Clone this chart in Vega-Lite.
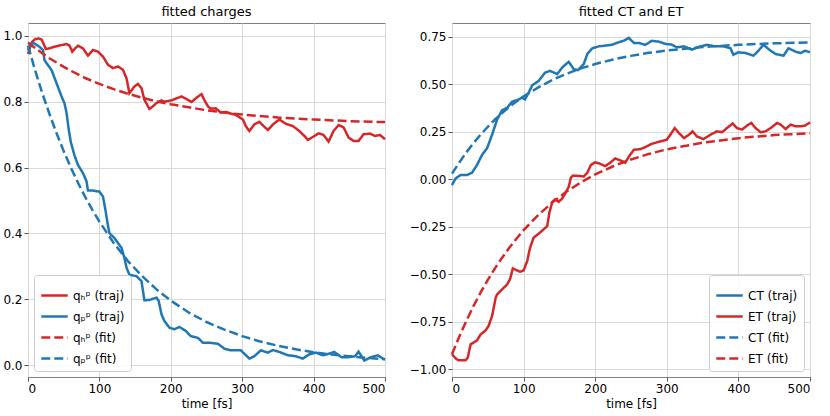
{
  "$schema": "https://vega.github.io/schema/vega-lite/v6.json",
  "padding": {"left": 2, "top": 5, "right": 0, "bottom": 0},
  "spacing": 17,
  "config": {
    "font": "DejaVu Sans",
    "view": {"stroke": "#808080", "strokeWidth": 1},
    "axis": {"labelFont": "DejaVu Sans", "labelFontSize": 12, "labelColor": "#000", "titleFont": "DejaVu Sans", "titleFontSize": 12, "titleFontWeight": "normal", "titleColor": "#000", "gridColor": "#d9d9d9", "gridWidth": 1, "tickColor": "#555", "tickSize": 4, "labelPadding": 2, "domain": false},
    "title": {"font": "DejaVu Sans", "fontSize": 13, "fontWeight": "normal", "offset": 4, "anchor": "middle", "color": "#000"},
    "legend": {"labelFont": "DejaVu Sans", "labelFontSize": 12, "labelColor": "#000", "symbolType": "stroke", "symbolStrokeWidth": 2.5, "symbolSize": 700, "rowPadding": -4, "fillColor": "rgba(255,255,255,0.85)", "strokeColor": "#cccccc", "cornerRadius": 3, "padding": 6, "offset": 6, "title": null}
  },
  "datasets": {
    "left": [
      {"s":"qₕᵖ (traj)","t":0,"v":0.945},{"s":"qₕᵖ (traj)","t":3,"v":0.965},{"s":"qₕᵖ (traj)","t":6,"v":0.982},{"s":"qₕᵖ (traj)","t":10,"v":0.99},{"s":"qₕᵖ (traj)","t":15,"v":0.992},{"s":"qₕᵖ (traj)","t":19,"v":0.989},{"s":"qₕᵖ (traj)","t":22,"v":0.975},{"s":"qₕᵖ (traj)","t":25,"v":0.96},{"s":"qₕᵖ (traj)","t":30,"v":0.962},{"s":"qₕᵖ (traj)","t":37,"v":0.967},{"s":"qₕᵖ (traj)","t":47,"v":0.972},{"s":"qₕᵖ (traj)","t":54,"v":0.975},{"s":"qₕᵖ (traj)","t":58,"v":0.971},{"s":"qₕᵖ (traj)","t":62,"v":0.952},{"s":"qₕᵖ (traj)","t":66,"v":0.962},{"s":"qₕᵖ (traj)","t":70,"v":0.97},{"s":"qₕᵖ (traj)","t":77,"v":0.962},{"s":"qₕᵖ (traj)","t":84,"v":0.94},{"s":"qₕᵖ (traj)","t":91,"v":0.957},{"s":"qₕᵖ (traj)","t":98,"v":0.952},{"s":"qₕᵖ (traj)","t":105,"v":0.937},{"s":"qₕᵖ (traj)","t":112,"v":0.912},{"s":"qₕᵖ (traj)","t":119,"v":0.902},{"s":"qₕᵖ (traj)","t":126,"v":0.907},{"s":"qₕᵖ (traj)","t":133,"v":0.897},{"s":"qₕᵖ (traj)","t":138,"v":0.871},{"s":"qₕᵖ (traj)","t":142,"v":0.826},{"s":"qₕᵖ (traj)","t":149,"v":0.846},{"s":"qₕᵖ (traj)","t":154,"v":0.854},{"s":"qₕᵖ (traj)","t":159,"v":0.841},{"s":"qₕᵖ (traj)","t":163,"v":0.806},{"s":"qₕᵖ (traj)","t":170,"v":0.778},{"s":"qₕᵖ (traj)","t":175,"v":0.786},{"s":"qₕᵖ (traj)","t":180,"v":0.796},{"s":"qₕᵖ (traj)","t":187,"v":0.804},{"s":"qₕᵖ (traj)","t":191,"v":0.8},{"s":"qₕᵖ (traj)","t":201,"v":0.804},{"s":"qₕᵖ (traj)","t":208,"v":0.81},{"s":"qₕᵖ (traj)","t":215,"v":0.816},{"s":"qₕᵖ (traj)","t":222,"v":0.808},{"s":"qₕᵖ (traj)","t":229,"v":0.799},{"s":"qₕᵖ (traj)","t":236,"v":0.812},{"s":"qₕᵖ (traj)","t":243,"v":0.823},{"s":"qₕᵖ (traj)","t":247,"v":0.805},{"s":"qₕᵖ (traj)","t":252,"v":0.786},{"s":"qₕᵖ (traj)","t":256,"v":0.779},{"s":"qₕᵖ (traj)","t":263,"v":0.78},{"s":"qₕᵖ (traj)","t":270,"v":0.767},{"s":"qₕᵖ (traj)","t":277,"v":0.769},{"s":"qₕᵖ (traj)","t":284,"v":0.764},{"s":"qₕᵖ (traj)","t":291,"v":0.76},{"s":"qₕᵖ (traj)","t":301,"v":0.746},{"s":"qₕᵖ (traj)","t":305,"v":0.726},{"s":"qₕᵖ (traj)","t":310,"v":0.711},{"s":"qₕᵖ (traj)","t":317,"v":0.731},{"s":"qₕᵖ (traj)","t":324,"v":0.739},{"s":"qₕᵖ (traj)","t":330,"v":0.726},{"s":"qₕᵖ (traj)","t":336,"v":0.714},{"s":"qₕᵖ (traj)","t":343,"v":0.731},{"s":"qₕᵖ (traj)","t":352,"v":0.746},{"s":"qₕᵖ (traj)","t":361,"v":0.733},{"s":"qₕᵖ (traj)","t":371,"v":0.726},{"s":"qₕᵖ (traj)","t":380,"v":0.711},{"s":"qₕᵖ (traj)","t":387,"v":0.696},{"s":"qₕᵖ (traj)","t":392,"v":0.684},{"s":"qₕᵖ (traj)","t":399,"v":0.693},{"s":"qₕᵖ (traj)","t":407,"v":0.704},{"s":"qₕᵖ (traj)","t":414,"v":0.699},{"s":"qₕᵖ (traj)","t":421,"v":0.679},{"s":"qₕᵖ (traj)","t":428,"v":0.711},{"s":"qₕᵖ (traj)","t":435,"v":0.729},{"s":"qₕᵖ (traj)","t":442,"v":0.722},{"s":"qₕᵖ (traj)","t":449,"v":0.691},{"s":"qₕᵖ (traj)","t":456,"v":0.681},{"s":"qₕᵖ (traj)","t":463,"v":0.681},{"s":"qₕᵖ (traj)","t":470,"v":0.701},{"s":"qₕᵖ (traj)","t":479,"v":0.703},{"s":"qₕᵖ (traj)","t":486,"v":0.696},{"s":"qₕᵖ (traj)","t":493,"v":0.699},{"s":"qₕᵖ (traj)","t":500,"v":0.686},
      {"s":"qₚᵖ (traj)","t":0,"v":0.955},{"s":"qₚᵖ (traj)","t":3,"v":0.975},{"s":"qₚᵖ (traj)","t":8,"v":0.978},{"s":"qₚᵖ (traj)","t":16,"v":0.967},{"s":"qₚᵖ (traj)","t":21,"v":0.957},{"s":"qₚᵖ (traj)","t":23,"v":0.927},{"s":"qₚᵖ (traj)","t":26,"v":0.917},{"s":"qₚᵖ (traj)","t":33,"v":0.896},{"s":"qₚᵖ (traj)","t":40,"v":0.856},{"s":"qₚᵖ (traj)","t":47,"v":0.816},{"s":"qₚᵖ (traj)","t":51,"v":0.796},{"s":"qₚᵖ (traj)","t":54,"v":0.766},{"s":"qₚᵖ (traj)","t":57,"v":0.716},{"s":"qₚᵖ (traj)","t":60,"v":0.677},{"s":"qₚᵖ (traj)","t":65,"v":0.638},{"s":"qₚᵖ (traj)","t":70,"v":0.608},{"s":"qₚᵖ (traj)","t":77,"v":0.583},{"s":"qₚᵖ (traj)","t":82,"v":0.558},{"s":"qₚᵖ (traj)","t":84,"v":0.53},{"s":"qₚᵖ (traj)","t":91,"v":0.53},{"s":"qₚᵖ (traj)","t":100,"v":0.527},{"s":"qₚᵖ (traj)","t":105,"v":0.512},{"s":"qₚᵖ (traj)","t":108,"v":0.477},{"s":"qₚᵖ (traj)","t":111,"v":0.437},{"s":"qₚᵖ (traj)","t":114,"v":0.401},{"s":"qₚᵖ (traj)","t":121,"v":0.386},{"s":"qₚᵖ (traj)","t":131,"v":0.356},{"s":"qₚᵖ (traj)","t":135,"v":0.326},{"s":"qₚᵖ (traj)","t":138,"v":0.296},{"s":"qₚᵖ (traj)","t":142,"v":0.275},{"s":"qₚᵖ (traj)","t":152,"v":0.27},{"s":"qₚᵖ (traj)","t":159,"v":0.255},{"s":"qₚᵖ (traj)","t":163,"v":0.197},{"s":"qₚᵖ (traj)","t":170,"v":0.198},{"s":"qₚᵖ (traj)","t":180,"v":0.205},{"s":"qₚᵖ (traj)","t":183,"v":0.195},{"s":"qₚᵖ (traj)","t":187,"v":0.154},{"s":"qₚᵖ (traj)","t":191,"v":0.134},{"s":"qₚᵖ (traj)","t":198,"v":0.114},{"s":"qₚᵖ (traj)","t":205,"v":0.109},{"s":"qₚᵖ (traj)","t":212,"v":0.116},{"s":"qₚᵖ (traj)","t":221,"v":0.104},{"s":"qₚᵖ (traj)","t":228,"v":0.088},{"s":"qₚᵖ (traj)","t":238,"v":0.083},{"s":"qₚᵖ (traj)","t":245,"v":0.068},{"s":"qₚᵖ (traj)","t":254,"v":0.068},{"s":"qₚᵖ (traj)","t":266,"v":0.065},{"s":"qₚᵖ (traj)","t":275,"v":0.05},{"s":"qₚᵖ (traj)","t":284,"v":0.045},{"s":"qₚᵖ (traj)","t":298,"v":0.045},{"s":"qₚᵖ (traj)","t":310,"v":0.02},{"s":"qₚᵖ (traj)","t":317,"v":0.027},{"s":"qₚᵖ (traj)","t":326,"v":0.045},{"s":"qₚᵖ (traj)","t":336,"v":0.038},{"s":"qₚᵖ (traj)","t":343,"v":0.046},{"s":"qₚᵖ (traj)","t":352,"v":0.04},{"s":"qₚᵖ (traj)","t":364,"v":0.03},{"s":"qₚᵖ (traj)","t":375,"v":0.027},{"s":"qₚᵖ (traj)","t":385,"v":0.02},{"s":"qₚᵖ (traj)","t":394,"v":0.033},{"s":"qₚᵖ (traj)","t":403,"v":0.038},{"s":"qₚᵖ (traj)","t":413,"v":0.03},{"s":"qₚᵖ (traj)","t":422,"v":0.035},{"s":"qₚᵖ (traj)","t":429,"v":0.04},{"s":"qₚᵖ (traj)","t":439,"v":0.024},{"s":"qₚᵖ (traj)","t":448,"v":0.024},{"s":"qₚᵖ (traj)","t":458,"v":0.027},{"s":"qₚᵖ (traj)","t":463,"v":0.041},{"s":"qₚᵖ (traj)","t":471,"v":0.014},{"s":"qₚᵖ (traj)","t":480,"v":0.024},{"s":"qₚᵖ (traj)","t":490,"v":0.03},{"s":"qₚᵖ (traj)","t":497,"v":0.02},{"s":"qₚᵖ (traj)","t":500,"v":0.017},
      {"s":"qₕᵖ (fit)","t":0,"v":0.98},{"s":"qₕᵖ (fit)","t":10,"v":0.963},{"s":"qₕᵖ (fit)","t":20,"v":0.947},{"s":"qₕᵖ (fit)","t":30,"v":0.932},{"s":"qₕᵖ (fit)","t":40,"v":0.919},{"s":"qₕᵖ (fit)","t":50,"v":0.906},{"s":"qₕᵖ (fit)","t":60,"v":0.894},{"s":"qₕᵖ (fit)","t":70,"v":0.883},{"s":"qₕᵖ (fit)","t":80,"v":0.872},{"s":"qₕᵖ (fit)","t":90,"v":0.863},{"s":"qₕᵖ (fit)","t":100,"v":0.854},{"s":"qₕᵖ (fit)","t":120,"v":0.838},{"s":"qₕᵖ (fit)","t":140,"v":0.824},{"s":"qₕᵖ (fit)","t":160,"v":0.812},{"s":"qₕᵖ (fit)","t":180,"v":0.801},{"s":"qₕᵖ (fit)","t":200,"v":0.792},{"s":"qₕᵖ (fit)","t":225,"v":0.783},{"s":"qₕᵖ (fit)","t":250,"v":0.774},{"s":"qₕᵖ (fit)","t":275,"v":0.767},{"s":"qₕᵖ (fit)","t":300,"v":0.761},{"s":"qₕᵖ (fit)","t":350,"v":0.752},{"s":"qₕᵖ (fit)","t":400,"v":0.746},{"s":"qₕᵖ (fit)","t":450,"v":0.741},{"s":"qₕᵖ (fit)","t":500,"v":0.738},
      {"s":"qₚᵖ (fit)","t":0,"v":0.97},{"s":"qₚᵖ (fit)","t":10,"v":0.895},{"s":"qₚᵖ (fit)","t":20,"v":0.826},{"s":"qₚᵖ (fit)","t":30,"v":0.763},{"s":"qₚᵖ (fit)","t":40,"v":0.704},{"s":"qₚᵖ (fit)","t":50,"v":0.65},{"s":"qₚᵖ (fit)","t":60,"v":0.6},{"s":"qₚᵖ (fit)","t":70,"v":0.554},{"s":"qₚᵖ (fit)","t":80,"v":0.511},{"s":"qₚᵖ (fit)","t":90,"v":0.472},{"s":"qₚᵖ (fit)","t":100,"v":0.436},{"s":"qₚᵖ (fit)","t":120,"v":0.371},{"s":"qₚᵖ (fit)","t":140,"v":0.316},{"s":"qₚᵖ (fit)","t":160,"v":0.27},{"s":"qₚᵖ (fit)","t":180,"v":0.23},{"s":"qₚᵖ (fit)","t":200,"v":0.196},{"s":"qₚᵖ (fit)","t":225,"v":0.16},{"s":"qₚᵖ (fit)","t":250,"v":0.131},{"s":"qₚᵖ (fit)","t":275,"v":0.108},{"s":"qₚᵖ (fit)","t":300,"v":0.088},{"s":"qₚᵖ (fit)","t":325,"v":0.072},{"s":"qₚᵖ (fit)","t":350,"v":0.059},{"s":"qₚᵖ (fit)","t":375,"v":0.048},{"s":"qₚᵖ (fit)","t":400,"v":0.039},{"s":"qₚᵖ (fit)","t":425,"v":0.032},{"s":"qₚᵖ (fit)","t":450,"v":0.027},{"s":"qₚᵖ (fit)","t":475,"v":0.022},{"s":"qₚᵖ (fit)","t":500,"v":0.018}
    ],
    "right": [
      {"s":"CT (traj)","t":0,"v":-0.03},{"s":"CT (traj)","t":5,"v":0.005},{"s":"CT (traj)","t":12,"v":0.023},{"s":"CT (traj)","t":21,"v":0.023},{"s":"CT (traj)","t":28,"v":0.035},{"s":"CT (traj)","t":35,"v":0.076},{"s":"CT (traj)","t":42,"v":0.129},{"s":"CT (traj)","t":49,"v":0.164},{"s":"CT (traj)","t":56,"v":0.235},{"s":"CT (traj)","t":63,"v":0.315},{"s":"CT (traj)","t":70,"v":0.364},{"s":"CT (traj)","t":77,"v":0.377},{"s":"CT (traj)","t":84,"v":0.409},{"s":"CT (traj)","t":91,"v":0.417},{"s":"CT (traj)","t":98,"v":0.43},{"s":"CT (traj)","t":102,"v":0.421},{"s":"CT (traj)","t":107,"v":0.456},{"s":"CT (traj)","t":112,"v":0.495},{"s":"CT (traj)","t":121,"v":0.518},{"s":"CT (traj)","t":130,"v":0.562},{"s":"CT (traj)","t":137,"v":0.571},{"s":"CT (traj)","t":147,"v":0.554},{"s":"CT (traj)","t":154,"v":0.589},{"s":"CT (traj)","t":163,"v":0.619},{"s":"CT (traj)","t":170,"v":0.58},{"s":"CT (traj)","t":176,"v":0.575},{"s":"CT (traj)","t":184,"v":0.607},{"s":"CT (traj)","t":189,"v":0.66},{"s":"CT (traj)","t":196,"v":0.69},{"s":"CT (traj)","t":205,"v":0.7},{"s":"CT (traj)","t":214,"v":0.704},{"s":"CT (traj)","t":223,"v":0.708},{"s":"CT (traj)","t":230,"v":0.718},{"s":"CT (traj)","t":240,"v":0.73},{"s":"CT (traj)","t":247,"v":0.745},{"s":"CT (traj)","t":254,"v":0.718},{"s":"CT (traj)","t":261,"v":0.718},{"s":"CT (traj)","t":270,"v":0.708},{"s":"CT (traj)","t":279,"v":0.729},{"s":"CT (traj)","t":289,"v":0.725},{"s":"CT (traj)","t":298,"v":0.713},{"s":"CT (traj)","t":307,"v":0.709},{"s":"CT (traj)","t":314,"v":0.695},{"s":"CT (traj)","t":324,"v":0.7},{"s":"CT (traj)","t":335,"v":0.683},{"s":"CT (traj)","t":347,"v":0.7},{"s":"CT (traj)","t":356,"v":0.708},{"s":"CT (traj)","t":368,"v":0.7},{"s":"CT (traj)","t":379,"v":0.7},{"s":"CT (traj)","t":389,"v":0.69},{"s":"CT (traj)","t":393,"v":0.656},{"s":"CT (traj)","t":400,"v":0.669},{"s":"CT (traj)","t":410,"v":0.665},{"s":"CT (traj)","t":421,"v":0.651},{"s":"CT (traj)","t":428,"v":0.677},{"s":"CT (traj)","t":435,"v":0.708},{"s":"CT (traj)","t":445,"v":0.677},{"s":"CT (traj)","t":452,"v":0.66},{"s":"CT (traj)","t":463,"v":0.651},{"s":"CT (traj)","t":470,"v":0.69},{"s":"CT (traj)","t":480,"v":0.672},{"s":"CT (traj)","t":487,"v":0.665},{"s":"CT (traj)","t":493,"v":0.677},{"s":"CT (traj)","t":500,"v":0.669},
      {"s":"ET (traj)","t":0,"v":-0.92},{"s":"ET (traj)","t":5,"v":-0.942},{"s":"ET (traj)","t":9,"v":-0.952},{"s":"ET (traj)","t":19,"v":-0.952},{"s":"ET (traj)","t":22,"v":-0.938},{"s":"ET (traj)","t":26,"v":-0.868},{"s":"ET (traj)","t":30,"v":-0.859},{"s":"ET (traj)","t":35,"v":-0.847},{"s":"ET (traj)","t":40,"v":-0.816},{"s":"ET (traj)","t":47,"v":-0.795},{"s":"ET (traj)","t":51,"v":-0.772},{"s":"ET (traj)","t":56,"v":-0.719},{"s":"ET (traj)","t":61,"v":-0.623},{"s":"ET (traj)","t":63,"v":-0.605},{"s":"ET (traj)","t":70,"v":-0.579},{"s":"ET (traj)","t":77,"v":-0.553},{"s":"ET (traj)","t":81,"v":-0.526},{"s":"ET (traj)","t":85,"v":-0.468},{"s":"ET (traj)","t":88,"v":-0.474},{"s":"ET (traj)","t":95,"v":-0.486},{"s":"ET (traj)","t":100,"v":-0.479},{"s":"ET (traj)","t":105,"v":-0.43},{"s":"ET (traj)","t":109,"v":-0.36},{"s":"ET (traj)","t":114,"v":-0.307},{"s":"ET (traj)","t":121,"v":-0.286},{"s":"ET (traj)","t":128,"v":-0.263},{"s":"ET (traj)","t":133,"v":-0.246},{"s":"ET (traj)","t":136,"v":-0.175},{"s":"ET (traj)","t":140,"v":-0.12},{"s":"ET (traj)","t":144,"v":-0.105},{"s":"ET (traj)","t":149,"v":-0.118},{"s":"ET (traj)","t":154,"v":-0.1},{"s":"ET (traj)","t":158,"v":-0.075},{"s":"ET (traj)","t":163,"v":-0.04},{"s":"ET (traj)","t":166,"v":0.009},{"s":"ET (traj)","t":169,"v":0.02},{"s":"ET (traj)","t":177,"v":0.018},{"s":"ET (traj)","t":184,"v":0.015},{"s":"ET (traj)","t":189,"v":0.035},{"s":"ET (traj)","t":194,"v":0.076},{"s":"ET (traj)","t":200,"v":0.09},{"s":"ET (traj)","t":207,"v":0.082},{"s":"ET (traj)","t":214,"v":0.07},{"s":"ET (traj)","t":221,"v":0.088},{"s":"ET (traj)","t":228,"v":0.11},{"s":"ET (traj)","t":235,"v":0.1},{"s":"ET (traj)","t":242,"v":0.088},{"s":"ET (traj)","t":247,"v":0.12},{"s":"ET (traj)","t":254,"v":0.156},{"s":"ET (traj)","t":263,"v":0.159},{"s":"ET (traj)","t":270,"v":0.17},{"s":"ET (traj)","t":279,"v":0.187},{"s":"ET (traj)","t":291,"v":0.2},{"s":"ET (traj)","t":300,"v":0.209},{"s":"ET (traj)","t":305,"v":0.235},{"s":"ET (traj)","t":311,"v":0.27},{"s":"ET (traj)","t":317,"v":0.244},{"s":"ET (traj)","t":324,"v":0.217},{"s":"ET (traj)","t":331,"v":0.235},{"s":"ET (traj)","t":336,"v":0.253},{"s":"ET (traj)","t":342,"v":0.226},{"s":"ET (traj)","t":351,"v":0.212},{"s":"ET (traj)","t":361,"v":0.235},{"s":"ET (traj)","t":370,"v":0.253},{"s":"ET (traj)","t":377,"v":0.248},{"s":"ET (traj)","t":384,"v":0.27},{"s":"ET (traj)","t":392,"v":0.294},{"s":"ET (traj)","t":398,"v":0.27},{"s":"ET (traj)","t":405,"v":0.262},{"s":"ET (traj)","t":412,"v":0.283},{"s":"ET (traj)","t":418,"v":0.297},{"s":"ET (traj)","t":424,"v":0.27},{"s":"ET (traj)","t":431,"v":0.248},{"s":"ET (traj)","t":438,"v":0.253},{"s":"ET (traj)","t":445,"v":0.27},{"s":"ET (traj)","t":454,"v":0.297},{"s":"ET (traj)","t":459,"v":0.288},{"s":"ET (traj)","t":466,"v":0.265},{"s":"ET (traj)","t":473,"v":0.288},{"s":"ET (traj)","t":480,"v":0.279},{"s":"ET (traj)","t":487,"v":0.279},{"s":"ET (traj)","t":493,"v":0.283},{"s":"ET (traj)","t":500,"v":0.3},
      {"s":"CT (fit)","t":0,"v":0.03},{"s":"CT (fit)","t":10,"v":0.088},{"s":"CT (fit)","t":20,"v":0.142},{"s":"CT (fit)","t":30,"v":0.191},{"s":"CT (fit)","t":40,"v":0.236},{"s":"CT (fit)","t":50,"v":0.277},{"s":"CT (fit)","t":60,"v":0.315},{"s":"CT (fit)","t":70,"v":0.349},{"s":"CT (fit)","t":80,"v":0.381},{"s":"CT (fit)","t":90,"v":0.41},{"s":"CT (fit)","t":100,"v":0.437},{"s":"CT (fit)","t":120,"v":0.483},{"s":"CT (fit)","t":140,"v":0.523},{"s":"CT (fit)","t":160,"v":0.556},{"s":"CT (fit)","t":180,"v":0.584},{"s":"CT (fit)","t":200,"v":0.607},{"s":"CT (fit)","t":225,"v":0.631},{"s":"CT (fit)","t":250,"v":0.65},{"s":"CT (fit)","t":275,"v":0.666},{"s":"CT (fit)","t":300,"v":0.678},{"s":"CT (fit)","t":350,"v":0.697},{"s":"CT (fit)","t":400,"v":0.708},{"s":"CT (fit)","t":450,"v":0.716},{"s":"CT (fit)","t":500,"v":0.721},
      {"s":"ET (fit)","t":0,"v":-0.92},{"s":"ET (fit)","t":10,"v":-0.829},{"s":"ET (fit)","t":20,"v":-0.745},{"s":"ET (fit)","t":30,"v":-0.667},{"s":"ET (fit)","t":40,"v":-0.595},{"s":"ET (fit)","t":50,"v":-0.529},{"s":"ET (fit)","t":60,"v":-0.468},{"s":"ET (fit)","t":70,"v":-0.412},{"s":"ET (fit)","t":80,"v":-0.36},{"s":"ET (fit)","t":90,"v":-0.312},{"s":"ET (fit)","t":100,"v":-0.267},{"s":"ET (fit)","t":120,"v":-0.189},{"s":"ET (fit)","t":140,"v":-0.122},{"s":"ET (fit)","t":160,"v":-0.064},{"s":"ET (fit)","t":180,"v":-0.016},{"s":"ET (fit)","t":200,"v":0.026},{"s":"ET (fit)","t":225,"v":0.069},{"s":"ET (fit)","t":250,"v":0.105},{"s":"ET (fit)","t":275,"v":0.134},{"s":"ET (fit)","t":300,"v":0.158},{"s":"ET (fit)","t":350,"v":0.193},{"s":"ET (fit)","t":400,"v":0.217},{"s":"ET (fit)","t":450,"v":0.233},{"s":"ET (fit)","t":500,"v":0.243}
    ]
  },
  "hconcat": [
    {
      "title": "fitted charges",
      "width": 357,
      "height": 354,
      "data": {"name": "left"},
      "mark": {"type": "line", "strokeWidth": 2.5},
      "encoding": {
        "x": {"field": "t", "type": "quantitative", "title": "time [fs]", "scale": {"domain": [0, 500], "nice": false}, "axis": {"values": [0, 100, 200, 300, 400, 500]}},
        "y": {"field": "v", "type": "quantitative", "title": null, "scale": {"domain": [-0.036, 1.039], "nice": false, "zero": false}, "axis": {"values": [0, 0.2, 0.4, 0.6, 0.8, 1.0], "format": ".1f"}},
        "color": {"field": "s", "type": "nominal", "scale": {"domain": ["qₕᵖ (traj)", "qₚᵖ (traj)", "qₕᵖ (fit)", "qₚᵖ (fit)"], "range": ["#d62728", "#1f77b4", "#d62728", "#1f77b4"]}, "legend": {"orient": "bottom-left"}},
        "strokeDash": {"field": "s", "type": "nominal", "scale": {"domain": ["qₕᵖ (traj)", "qₚᵖ (traj)", "qₕᵖ (fit)", "qₚᵖ (fit)"], "range": [[1, 0], [1, 0], [9, 4], [9, 4]]}, "legend": {"orient": "bottom-left"}}
      }
    },
    {
      "title": "fitted CT and ET",
      "width": 358,
      "height": 354,
      "data": {"name": "right"},
      "mark": {"type": "line", "strokeWidth": 2.5},
      "encoding": {
        "x": {"field": "t", "type": "quantitative", "title": "time [fs]", "scale": {"domain": [0, 500], "nice": false}, "axis": {"values": [0, 100, 200, 300, 400, 500]}},
        "y": {"field": "v", "type": "quantitative", "title": null, "scale": {"domain": [-1.04, 0.823], "nice": false, "zero": false}, "axis": {"values": [-1, -0.75, -0.5, -0.25, 0, 0.25, 0.5, 0.75], "format": ".2f"}},
        "color": {"field": "s", "type": "nominal", "scale": {"domain": ["CT (traj)", "ET (traj)", "CT (fit)", "ET (fit)"], "range": ["#1f77b4", "#d62728", "#1f77b4", "#d62728"]}, "legend": {"orient": "bottom-right"}},
        "strokeDash": {"field": "s", "type": "nominal", "scale": {"domain": ["CT (traj)", "ET (traj)", "CT (fit)", "ET (fit)"], "range": [[1, 0], [1, 0], [9, 4], [9, 4]]}, "legend": {"orient": "bottom-right"}}
      }
    }
  ],
  "resolve": {"scale": {"color": "independent", "strokeDash": "independent", "x": "independent", "y": "independent"}, "legend": {"color": "independent", "strokeDash": "independent"}}
}
